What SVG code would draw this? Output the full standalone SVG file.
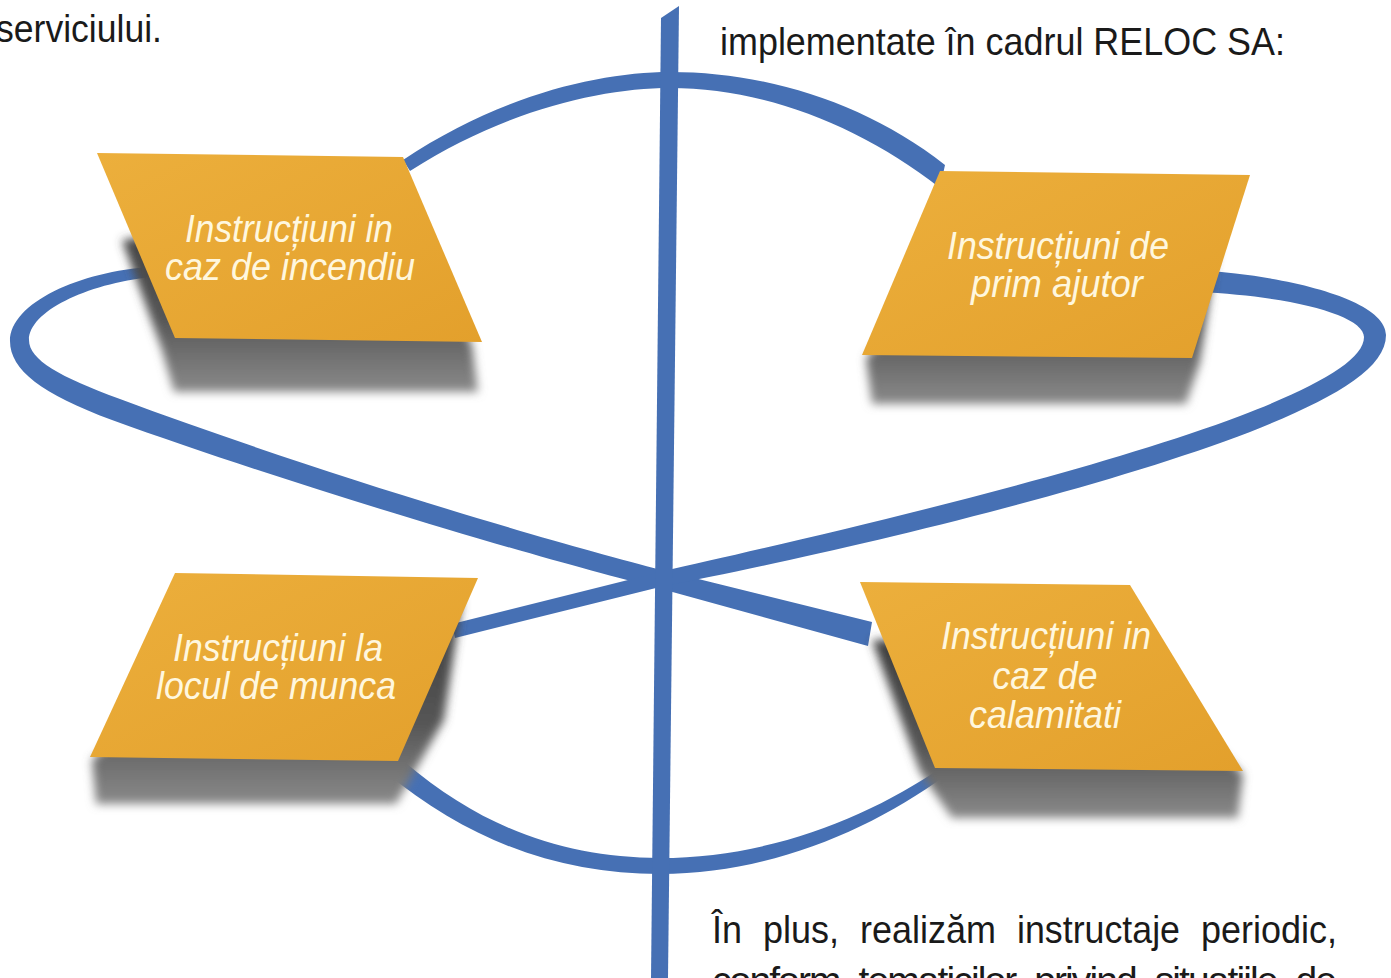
<svg xmlns="http://www.w3.org/2000/svg" width="1391" height="978" viewBox="0 0 1391 978">
<defs>
<style>
.rib{fill:#4670B4}
.node{fill:url(#gold)}
.shadow{fill:url(#shade);filter:url(#blur)}
.nt{font-family:"Liberation Sans",Arial,sans-serif;font-style:italic;font-size:38px;fill:#FFF7DE;text-anchor:middle}
.body{font-family:"Liberation Sans",Arial,sans-serif;font-size:39px;fill:#1a1a1a}
</style>
<linearGradient id="gold" x1="0" y1="0" x2="1" y2="1">
<stop offset="0" stop-color="#ECAF3C"/>
<stop offset="1" stop-color="#E3A02C"/>
</linearGradient>
<linearGradient id="shade" x1="0" y1="0" x2="0" y2="1">
<stop offset="0" stop-color="#3e3e3e"/>
<stop offset="0.6" stop-color="#555555"/>
<stop offset="1" stop-color="#8a8a8a"/>
</linearGradient>
<filter id="blur" x="-20%" y="-20%" width="140%" height="140%">
<feGaussianBlur stdDeviation="5"/>
</filter>
</defs>
<rect width="1391" height="978" fill="#ffffff"/>

<g id="top-text">
<text class="body" x="-4" y="42" textLength="166" lengthAdjust="spacingAndGlyphs">serviciului.</text>
<text class="body" x="720" y="55" textLength="565" lengthAdjust="spacingAndGlyphs">implementate în cadrul RELOC SA:</text>
</g>

<g id="connectors">
<path class="rib" d="M403,160 C500,95 600,72 670,72 C765,72 865,102 945,165 L940,188 C858,124 762,88 670,88 C602,88 505,110 410,171 Z"/>
<path class="rib" d="M152,267 C80,271 10,303 10,341 C10,370 42,394 112,420 C300,488 545,560 658,588 L868,646 L872,622 L662,570 C550,542 310,470 120,399 C60,377 29,360 29,340 C29,312 85,284 152,277 Z"/>
<path class="rib" d="M1198,270 C1290,276 1386,300 1386,335 C1386,370 1330,400 1250,432 C1080,497 800,560 664,586 L455,638 L452,624 L660,572 C800,540 1075,478 1240,416 C1318,386 1364,360 1364,337 C1364,315 1290,296 1198,292 Z"/>
<path class="rib" d="M385,772 C470,842 560,874 660,874 C770,874 870,830 945,776 L942,767 C868,818 768,858 660,858 C565,858 480,828 400,758 Z"/>
<path class="rib" d="M661,18 L679,6 L668,978 L651,978 Z"/>
</g>

<g id="node-incendiu">
<polygon class="shadow" points="122,240 400,205 472,345 478,392 174,392 162,350"/>
<polygon class="node" points="97,153 403,157 482,342 175,338"/>
<text class="nt" x="289" y="242" textLength="208" lengthAdjust="spacingAndGlyphs">Instrucțiuni in</text>
<text class="nt" x="290" y="280" textLength="250" lengthAdjust="spacingAndGlyphs">caz de incendiu</text>
</g>

<g id="node-prim-ajutor">
<polygon class="shadow" points="1000,220 1220,228 1200,362 1186,404 872,404 866,358"/>
<polygon class="node" points="940,171 1250,175 1192,358 862,355"/>
<text class="nt" x="1058" y="259" textLength="222" lengthAdjust="spacingAndGlyphs">Instrucțiuni de</text>
<text class="nt" x="1057" y="297" textLength="172" lengthAdjust="spacingAndGlyphs">prim ajutor</text>
</g>

<g id="node-locul">
<polygon class="shadow" points="160,700 462,600 444,720 396,804 96,804 92,760"/>
<polygon class="node" points="175,573 478,578 398,761 90,757"/>
<text class="nt" x="278" y="661" textLength="210" lengthAdjust="spacingAndGlyphs">Instrucțiuni la</text>
<text class="nt" x="276" y="699" textLength="240" lengthAdjust="spacingAndGlyphs">locul de munca</text>
</g>

<g id="node-calamitati">
<polygon class="shadow" points="872,640 1100,640 1243,774 1238,818 952,818 920,772"/>
<polygon class="node" points="860,582 1130,585 1243,771 935,768"/>
<text class="nt" x="1046" y="649" textLength="210" lengthAdjust="spacingAndGlyphs">Instrucțiuni in</text>
<text class="nt" x="1045" y="689" textLength="105" lengthAdjust="spacingAndGlyphs">caz de</text>
<text class="nt" x="1045" y="728" textLength="152" lengthAdjust="spacingAndGlyphs">calamitati</text>
</g>

<g id="bottom-text">
<text class="body" x="712" y="943" textLength="30" lengthAdjust="spacingAndGlyphs">În</text>
<text class="body" x="763" y="943" textLength="76" lengthAdjust="spacingAndGlyphs">plus,</text>
<text class="body" x="860" y="943" textLength="136" lengthAdjust="spacingAndGlyphs">realizăm</text>
<text class="body" x="1017" y="943" textLength="163" lengthAdjust="spacingAndGlyphs">instructaje</text>
<text class="body" x="1201" y="943" textLength="136" lengthAdjust="spacingAndGlyphs">periodic,</text>
<text class="body" x="712" y="994" textLength="625" lengthAdjust="spacing" word-spacing="10">conform tematicilor privind situațiile de</text>
</g>
</svg>
